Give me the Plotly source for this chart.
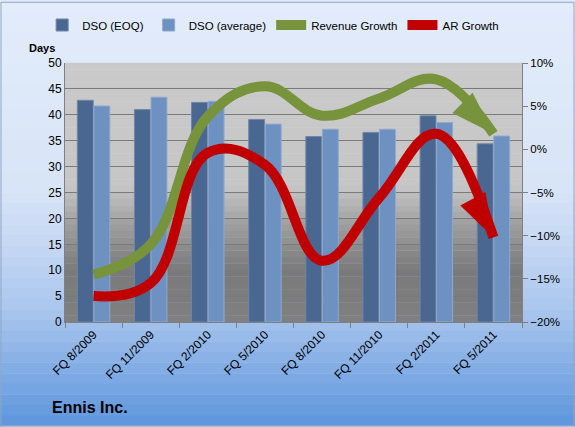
import plotly.graph_objects as go

quarters = ["FQ 8/2009", "FQ 11/2009", "FQ 2/2010", "FQ 5/2010",
            "FQ 8/2010", "FQ 11/2010", "FQ 2/2011", "FQ 5/2011"]
dso_eoq = [42.8, 41.0, 42.4, 39.1, 35.8, 36.6, 39.8, 34.4]
dso_avg = [41.7, 43.4, 42.6, 38.2, 37.2, 37.2, 38.5, 35.9]
revenue_growth = [-14.5, -11.0, 3.8, 7.3, 3.9, 5.9, 8.1, 1.8]
ar_growth = [-17.0, -15.5, -0.4, -1.8, -12.9, -5.6, 1.8, -10.2]

W, H = 575, 427
ML, MR, MT, MB = 65, 53, 62, 105
PW, PH = W - ML - MR, H - MT - MB


def mix(stops, t):
    # stops: list of (pos, (r,g,b)), t in [0,1]
    for (p0, c0), (p1, c1) in zip(stops, stops[1:]):
        if p0 <= t <= p1:
            f = 0 if p1 == p0 else (t - p0) / (p1 - p0)
            c = [round(a + (b - a) * f) for a, b in zip(c0, c1)]
            return "rgb(%d,%d,%d)" % tuple(c)
    return "rgb(%d,%d,%d)" % stops[-1][1]


# t = 0 at top, 1 at bottom
page_stops = [(0, (226, 236, 251)), (0.45, (216, 228, 247)),
              (0.72, (172, 199, 238)), (1, (92, 149, 220))]
plot_stops = [(0, (202, 202, 202)), (0.48, (198, 198, 198)),
              (0.62, (160, 160, 160)), (0.8, (122, 122, 122)), (1, (128, 128, 128))]

shapes = []
n = 40
fx0, fx1 = -ML / PW, 1 + MR / PW
fy_top, fy_bot = 1 + MT / PH, -MB / PH
for i in range(n):
    t = (i + 0.5) / n
    ya = fy_top + (fy_bot - fy_top) * i / n
    yb = fy_top + (fy_bot - fy_top) * (i + 1) / n
    shapes.append(dict(type="rect", xref="paper", yref="paper", layer="below",
                       x0=fx0, x1=fx1, y0=yb, y1=ya + 0.001,
                       fillcolor=mix(page_stops, t), line=dict(width=0)))
for i in range(n):
    t = (i + 0.5) / n
    ya = 1 - i / n
    yb = 1 - (i + 1) / n
    shapes.append(dict(type="rect", xref="paper", yref="paper", layer="below",
                       x0=0, x1=1, y0=yb, y1=ya + 0.001,
                       fillcolor=mix(plot_stops, t), line=dict(width=0)))
# page border
shapes.append(dict(type="rect", xref="paper", yref="paper", layer="below",
                   x0=fx0 + 1 / PW, x1=fx1 - 1 / PW, y0=fy_bot + 1 / PH, y1=fy_top - 1 / PH,
                   line=dict(color="#8ea6c6", width=1)))

fig = go.Figure()
fig.add_trace(go.Bar(x=quarters, y=dso_eoq, name="DSO (EOQ)",
                     marker=dict(color="#4a6791", line=dict(color="#6f86a8", width=1))))
fig.add_trace(go.Bar(x=quarters, y=dso_avg, name="DSO (average)",
                     marker=dict(color="#6d91c0", line=dict(color="#8fa9cc", width=1))))

green, red = "#77933c", "#c00000"
fig.add_trace(go.Scatter(x=quarters, y=revenue_growth, name="Revenue Growth", yaxis="y2",
                         mode="lines",
                         line=dict(color=green, width=10, shape="spline", smoothing=1.15, backoff=18)))
fig.add_trace(go.Scatter(x=quarters, y=ar_growth, name="AR Growth", yaxis="y2",
                         mode="lines",
                         line=dict(color=red, width=10, shape="spline", smoothing=1.15, backoff=18)))
# arrow heads at the last point of each growth line
fig.add_trace(go.Scatter(x=quarters[-1:], y=revenue_growth[-1:], yaxis="y2", mode="markers",
                         showlegend=False, hoverinfo="skip",
                         marker=dict(symbol="arrow", size=46, angle=135, color=green,
                                     line=dict(width=0))))
fig.add_trace(go.Scatter(x=quarters[-1:], y=ar_growth[-1:], yaxis="y2", mode="markers",
                         showlegend=False, hoverinfo="skip",
                         marker=dict(symbol="arrow", size=46, angle=152, color=red,
                                     line=dict(width=0))))

fig.update_layout(
    width=W, height=H,
    margin=dict(l=ML, r=MR, t=MT, b=MB),
    paper_bgcolor="#dfe9f9",
    plot_bgcolor="rgba(0,0,0,0)",
    font=dict(family="Liberation Sans, Arial, sans-serif", size=11, color="#000000"),
    barmode="group", bargap=0.42, bargroupgap=0.04,
    shapes=shapes,
    showlegend=True,
    legend=dict(orientation="h", x=-0.05, y=1 + 37 / PH, xanchor="left", yanchor="middle",
                bgcolor="rgba(0,0,0,0)", font=dict(size=11.5), tracegroupgap=0),
    xaxis=dict(type="category", range=[-0.5, len(quarters) - 0.5], tickangle=-45,
               tickfont=dict(size=12),
               ticks="outside", tickson="boundaries", ticklen=5, tickcolor="#808080",
               showline=True, linecolor="#808080", showgrid=False),
    yaxis=dict(range=[0, 50], dtick=5, showgrid=True, gridcolor="#7a7a7a", gridwidth=1,
               showline=True, linecolor="#808080", ticks="", zeroline=False,
               tickfont=dict(size=12)),
    yaxis2=dict(range=[-20, 10], dtick=5, overlaying="y", side="right", showgrid=False,
                ticksuffix="%", ticks="outside", ticklen=5, tickcolor="#808080",
                showline=True, linecolor="#808080", zeroline=False, tickfont=dict(size=11.5)),
    annotations=[
        dict(text="<b>Days</b>", xref="paper", yref="paper", x=-38 / PW, y=1 + 15 / PH,
             xanchor="left", yanchor="middle", showarrow=False, font=dict(size=11)),
        dict(text="<b>Ennis Inc.</b>", xref="paper", yref="paper", x=-15 / PW, y=-86 / PH,
             xanchor="left", yanchor="middle", showarrow=False, font=dict(size=16)),
    ],
)

# drop the browser's default body margin so the chart sits at the page corner
fig.write_html("out.html", config={"displayModeBar": False},
               post_script="document.body.style.margin='0px';")
